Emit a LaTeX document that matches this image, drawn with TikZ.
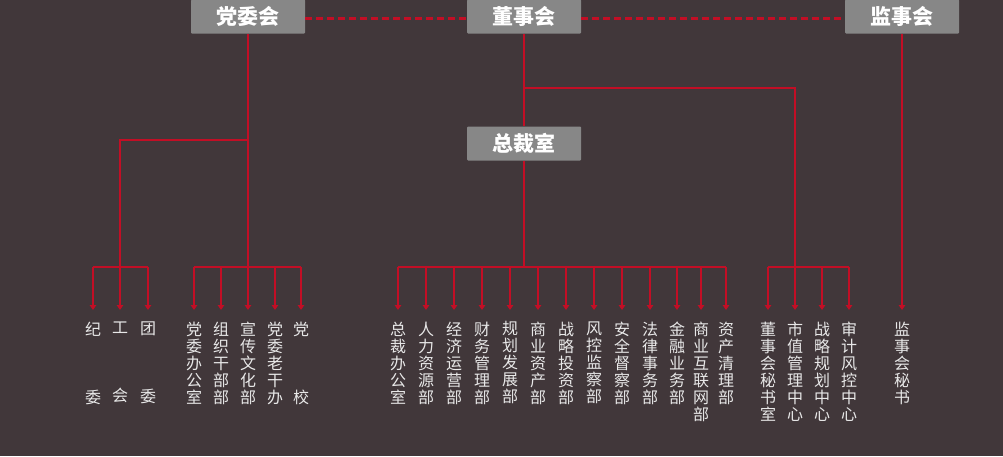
\documentclass[tikz,border=0pt]{standalone}
\usepackage{fontspec}
\newfontfamily\cjk{Noto Sans CJK SC}
\usetikzlibrary{arrows.meta, positioning, calc}
\definecolor{bgc}{HTML}{41373A}
\definecolor{hong}{HTML}{C20E25}
\definecolor{hui}{HTML}{878787}
\definecolor{zi}{HTML}{E8E8E8}

\begin{document}
\begin{tikzpicture}[x=1pt, y=-1pt,
      top/.style = {fill=hui, rounded corners=1pt, text=white, inner sep=0pt,
                    font=\cjk\bfseries\fontsize{21}{21}\selectfont,
                    minimum width=114pt, minimum height=34pt},
      sub/.style = {anchor=north, align=center, text=zi, inner xsep=0pt,
                    inner ysep=11.5pt, font=\cjk\fontsize{16}{17}\selectfont},
      ln/.style  = {draw=hong, line width=2.6pt},
      arr/.style = {ln, -{Triangle[length=5pt,width=6.5pt]}},
      dl/.style  = {draw=hong, line width=2.2pt, dash pattern=on 7pt off 4pt}
    ]
    \fill[bgc] (0,0) rectangle (1003,456);
    \useasboundingbox (0,0) rectangle (1003,456);
    % kopf
    \node[top] (dw)  at (248,16.5) {党委会};
    \node[top] (dsh) at (524,16.5) {董事会};
    \node[top] (jsh) at (902,16.5) {监事会};
    \node[top] (zcs) at (524,143.5) {总裁室};
    \draw[dl] ([yshift=-2pt]dw.east)  -- ([yshift=-2pt]dsh.west);
    \draw[dl] ([yshift=-2pt]dsh.east) -- ([yshift=-2pt]jsh.west);
    % hilfspunkte
    \coordinate (bus) at (0,267);
    \coordinate (k1)  at (120,140);
    \coordinate (k2)  at (524,88);
    % dangwei
    \node[sub] (jw)   at (93,310)  {纪\\[51pt]委};
    \node[sub] (gh)   at (120,310) {工\\[51pt]会};
    \node[sub] (tw)   at (148,310) {团\\[51pt]委};
    \node[sub] (dwb)  at (194,310) {党\\委\\办\\公\\室};
    \node[sub] (zzb)  at (221,310) {组\\织\\干\\部\\部};
    \node[sub] (xcb)  at (248,310) {宣\\传\\文\\化\\部};
    \node[sub] (lgb)  at (275,310) {党\\委\\老\\干\\办};
    \node[sub] (dx)   at (301,310) {党\\[51pt]校};
    % zongcai
    \node[sub] (zb)   at (398,310) {总\\裁\\办\\公\\室};
    \node[sub] (rl)   at (426,310) {人\\力\\资\\源\\部};
    \node[sub] (jj)   at (454,310) {经\\济\\运\\营\\部};
    \node[sub] (cw)   at (482,310) {财\\务\\管\\理\\部};
    \node[sub] (gh2)  at (510,310) {规\\划\\发\\展\\部};
    \node[sub] (syz)  at (538,310) {商\\业\\资\\产\\部};
    \node[sub] (zltz) at (566,310) {战\\略\\投\\资\\部};
    \node[sub] (fk)   at (594,310) {风\\控\\监\\察\\部};
    \node[sub] (aq)   at (622,310) {安\\全\\督\\察\\部};
    \node[sub] (fl)   at (650,310) {法\\律\\事\\务\\部};
    \node[sub] (jr)   at (677,310) {金\\融\\业\\务\\部};
    \node[sub] (hl)   at (701,310) {商\\业\\互\\联\\网\\部};
    \node[sub] (ql)   at (726,310) {资\\产\\清\\理\\部};
    % dongshihui
    \node[sub] (msh)  at (768,310) {董\\事\\会\\秘\\书\\室};
    \node[sub] (sz)   at (795,310) {市\\值\\管\\理\\中\\心};
    \node[sub] (zlgh) at (822,310) {战\\略\\规\\划\\中\\心};
    \node[sub] (sj)   at (849,310) {审\\计\\风\\控\\中\\心};
    % jianshihui
    \node[sub] (jsm)  at (902,310) {监\\事\\会\\秘\\书};
    % linien links
    \draw[ln] (dw) -- (dw |- bus);
    \draw[ln] (dw |- k1) -| (gh |- bus);
    \draw[ln] (jw |- bus) -- (tw |- bus);
    \draw[ln] (dwb |- bus) -- (dx |- bus);
    \draw[arr] (jw |- bus) -- (jw);
    \draw[arr] (gh |- bus) -- (gh);
    \draw[arr] (tw |- bus) -- (tw);
    \draw[arr] (dwb |- bus) -- (dwb);
    \draw[arr] (zzb |- bus) -- (zzb);
    \draw[arr] (xcb |- bus) -- (xcb);
    \draw[arr] (lgb |- bus) -- (lgb);
    \draw[arr] (dx |- bus) -- (dx);
    % linien mitte
    \draw[ln] (dsh) -- (zcs);
    \draw[ln] (zcs) -- (zcs |- bus);
    \draw[ln] (zb |- bus) -- (ql |- bus);
    \draw[arr] (zb |- bus) -- (zb);
    \draw[arr] (rl |- bus) -- (rl);
    \draw[arr] (jj |- bus) -- (jj);
    \draw[arr] (cw |- bus) -- (cw);
    \draw[arr] (gh2 |- bus) -- (gh2);
    \draw[arr] (syz |- bus) -- (syz);
    \draw[arr] (zltz |- bus) -- (zltz);
    \draw[arr] (fk |- bus) -- (fk);
    \draw[arr] (aq |- bus) -- (aq);
    \draw[arr] (fl |- bus) -- (fl);
    \draw[arr] (jr |- bus) -- (jr);
    \draw[arr] (hl |- bus) -- (hl);
    \draw[arr] (ql |- bus) -- (ql);
    % linien rechts
    \draw[ln] (dsh |- k2) -| (sz |- bus);
    \draw[ln] (msh |- bus) -- (sj |- bus);
    \draw[arr] (msh |- bus) -- (msh);
    \draw[arr] (sz |- bus) -- (sz);
    \draw[arr] (zlgh |- bus) -- (zlgh);
    \draw[arr] (sj |- bus) -- (sj);
    \draw[arr] (jsh) -- (jsm);
  \end{tikzpicture}
\end{document}
